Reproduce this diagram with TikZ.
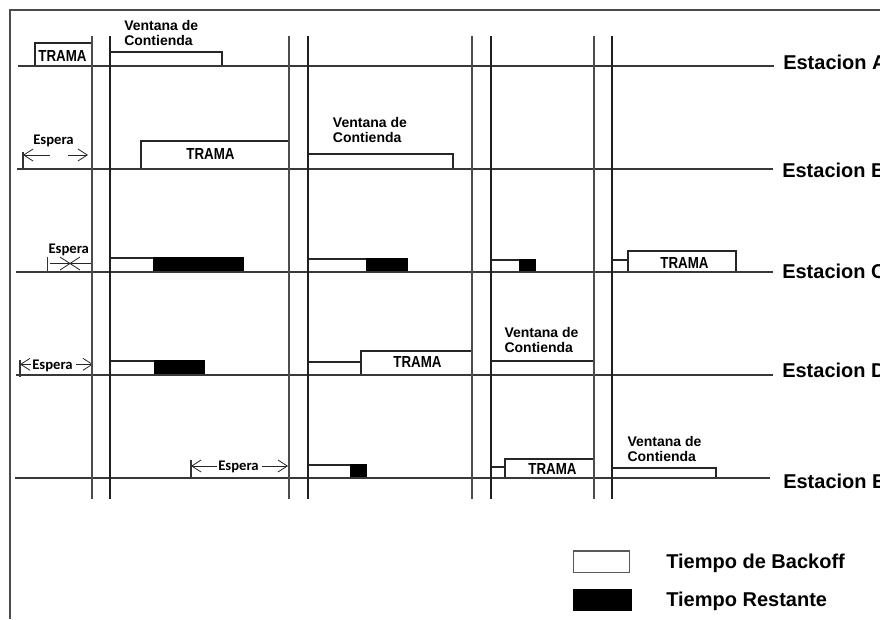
\documentclass[tikz,border=0pt]{standalone}
\usepackage{fontspec}
\setmainfont{Liberation Sans}
\newfontfamily\esperafont{Carlito}
\usetikzlibrary{arrows.meta}
\begin{document}
\begin{tikzpicture}[x=0.75pt,y=-0.75pt,
  hln/.style={draw=black!78,line width=1.1pt},
  vln/.style={draw=black!75,line width=1.1pt},
  bx/.style={draw=black!85,line width=0.8pt,fill=white},
  blk/.style={draw=black,line width=0.8pt,fill=black},
  trama/.style={font=\fontsize{10}{12}\selectfont\bfseries,inner sep=0pt,anchor=base},
  ventana/.style={font=\fontsize{10.5}{11}\selectfont\bfseries,align=left,inner sep=0pt,anchor=north west},
  espera/.style={font=\esperafont\fontsize{11}{13}\selectfont\bfseries,inner sep=0pt,anchor=base west},
  estacion/.style={font=\fontsize{15}{18}\selectfont\bfseries,inner sep=0pt,anchor=base west},
  legtext/.style={font=\fontsize{15}{18}\selectfont\bfseries,inner sep=0pt,anchor=base west},
  arr/.style={-{Straight Barb[length=7pt,width=9pt]},line width=0.6pt,draw=black!85},
  tickln/.style={line width=0.8pt,draw=black!80}]
\useasboundingbox (0,0) rectangle (880,619);
\fill[white] (0,0) rectangle (880,619);
% frame
\draw[line width=1.1pt,draw=black!70] (10,619) -- (10,10) -- (880,10);

% ---------- Station A ----------
\draw[bx] (35,43) rectangle (92,66);
\node[trama] (tA) at (62.5,61) {\scalebox{1}[1.2]{TRAMA}};
\draw[bx] (110,52) rectangle (222,66);
\node[ventana] (vA) at (124,20.5) {Ventana de\\Contienda};

% ---------- Station B ----------
\draw[bx] (141,141) rectangle (289,169);
\node[trama] (tB) at (210.5,159) {\scalebox{1}[1.2]{TRAMA}};
\draw[bx] (308,154) rectangle (453,169);
\node[ventana] (vB) at (332.7,117.3) {Ventana de\\Contienda};
\node[espera] (eB) at (33,144) {Espera};
\coordinate (bTick1) at (23,152); \coordinate (bTick2) at (23,170);
\draw[tickln] (bTick1) -- (bTick2);
\coordinate (bL0) at (50,155); \coordinate (bL1) at (23,155);
\coordinate (bR0) at (68,155); \coordinate (bR1) at (88,155);
\draw[arr] (bL0) -- (bL1);
\draw[arr] (bR0) -- (bR1);

% ---------- Station C ----------
\draw[bx] (110,258) rectangle (154,272);
\draw[blk] (154,258) rectangle (243,272);
\draw[bx] (308,259) rectangle (367,272);
\draw[blk] (367,259) rectangle (407,272);
\draw[bx] (491,260) rectangle (520,272);
\draw[blk] (520,260) rectangle (535,272);
\draw[bx] (612,260) rectangle (628,272);
\draw[bx] (628,251) rectangle (736,272);
\node[trama] (tC) at (684.5,268) {\scalebox{1}[1.2]{TRAMA}};
\node[espera] (eC) at (48.3,253.3) {Espera};
\coordinate (cTick1) at (47.7,256.7); \coordinate (cTick2) at (47.7,273.3);
\draw[tickln] (cTick1) -- (cTick2);
\coordinate (cL0) at (50,263.3); \coordinate (cL1) at (91.7,263.3);
\draw[line width=0.6pt,draw=black!85] (cL0) -- (cL1);
\coordinate (cx1) at (60,257); \coordinate (cx2) at (80,270);
\coordinate (cx3) at (80,257); \coordinate (cx4) at (60,270);
\draw[line width=0.6pt,draw=black!85] (cx1) -- (cx2) (cx3) -- (cx4);

% ---------- Station D ----------
\draw[bx] (110,361) rectangle (155,375);
\draw[blk] (155,361) rectangle (204,375);
\draw[bx] (308,362) rectangle (361,375);
\draw[bx] (361,351) rectangle (472,375);
\node[trama] (tD) at (417.5,367.7) {\scalebox{1}[1.2]{TRAMA}};
\draw[bx] (491,361) rectangle (594,375);
\node[ventana] (vD) at (504.3,327.3) {Ventana de\\Contienda};
\node[espera] (eD) at (32,369.3) {Espera};
\coordinate (dTick1) at (20,360); \coordinate (dTick2) at (20,377);
\draw[tickln] (dTick1) -- (dTick2);
\coordinate (dL0) at (31,364.3); \coordinate (dL1) at (20,364.3);
\coordinate (dR0) at (76,364.3); \coordinate (dR1) at (93,364.3);
\draw[arr] (dL0) -- (dL1);
\draw[arr] (dR0) -- (dR1);

% ---------- Station E ----------
\draw[bx] (308,465) rectangle (351,478);
\draw[blk] (351,465) rectangle (366,478);
\draw[bx] (491,467) rectangle (505,478);
\draw[bx] (505,459) rectangle (594,478);
\node[trama] (tE) at (552.5,474) {\scalebox{1}[1.2]{TRAMA}};
\draw[bx] (612,468) rectangle (716,478);
\node[ventana] (vE) at (627.3,436) {Ventana de\\Contienda};
\node[espera] (eE) at (218,470) {Espera};
\coordinate (eTick1) at (191,460); \coordinate (eTick2) at (191,478);
\draw[tickln] (eTick1) -- (eTick2);
\coordinate (eL0) at (217,466); \coordinate (eL1) at (191,466);
\coordinate (eR0) at (262,466); \coordinate (eR1) at (288,466);
\draw[arr] (eL0) -- (eL1);
\draw[arr] (eR0) -- (eR1);

% ---------- station lines ----------
\coordinate (A0) at (18,66);  \coordinate (A1) at (774,66);
\coordinate (B0) at (17,169); \coordinate (B1) at (773,169);
\coordinate (C0) at (16,272); \coordinate (C1) at (773,272);
\coordinate (D0) at (16,375); \coordinate (D1) at (773,375);
\coordinate (E0) at (15,478); \coordinate (E1) at (770,478);
\draw[hln] (A0) -- (A1);
\draw[hln] (B0) -- (B1);
\draw[hln] (C0) -- (C1);
\draw[hln] (D0) -- (D1);
\draw[hln] (E0) -- (E1);
\node[estacion] (sA) at (783,69) {Estacion A};
\node[estacion] (sB) at (782,177) {Estacion B};
\node[estacion] (sC) at (782,278) {Estacion C};
\node[estacion] (sD) at (782,377) {Estacion D};
\node[estacion] (sE) at (783,488) {Estacion E};

% ---------- vertical lines ----------
\foreach \xx/\cc in {92/70,110/88,289/70,308/88,472/70,491/88,594/70,612/88}
  \draw[line width=1.1pt,draw=black!\cc] (\xx,36) -- (\xx,499);

% ---------- legend ----------
\draw[line width=1.2pt,draw=black!65,fill=white] (573.3,551) rectangle (629.3,572.3);
\node[legtext] (lB) at (666,568) {Tiempo de Backoff};
\fill[black] (573.3,589) rectangle (631.7,610.7);
\node[legtext] (lR) at (666,606) {Tiempo Restante};
\end{tikzpicture}
\end{document}
